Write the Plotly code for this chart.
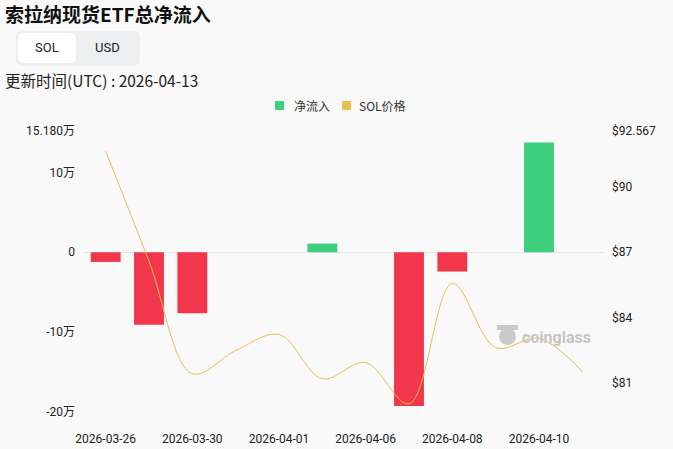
import plotly.graph_objects as go

# ---------------- data ----------------
dates = ["2026-03-26", "2026-03-27", "2026-03-30", "2026-03-31", "2026-04-01", "2026-04-02",
         "2026-04-06", "2026-04-07", "2026-04-08", "2026-04-09", "2026-04-10", "2026-04-13"]
net_flow = [-12100, -90900, -76300, None, None, 10900,
            None, -192500, -24100, None, 137500, None]
sol_price = [91.64, 86.59, 81.42, 82.48, 83.22, 81.19,
             81.93, 80.04, 85.57, 82.62, 83.04, 81.52]
x_tick_labels = ["2026-03-26", "2026-03-30", "2026-04-01", "2026-04-06", "2026-04-08", "2026-04-10"]
left_tickvals = [-200000, -100000, 0, 100000, 151800]
left_ticktext = ["-20万", "-10万", "0", "10万", "15.180万"]
right_tickvals = [81, 84, 87, 90, 92.567]
right_ticktext = ["$81", "$84", "$87", "$90", "$92.567"]
series_names = ["净流入", "SOL价格"]

# ---------------- style ----------------
W, H = 673, 449
L, R, T, B = 84, 604, 131, 412
BG = "#F9F9F9"
GREEN = "#3ECF7F"
RED = "#F2364C"
GOLD = "#E9BE4E"
FONT = "Roboto, Noto Sans CJK SC, sans-serif"
CJK = "Noto Sans CJK SC"


def px(xp):
    return (xp - L) / (R - L)


def py(yp):
    return (B - yp) / (B - T)


def rrect(x0, y0, x1, y1, r):
    def P(x, y):
        return f"{px(x):.5f},{py(y):.5f}"
    return (f"M {P(x0 + r, y0)} L {P(x1 - r, y0)} Q {P(x1, y0)} {P(x1, y0 + r)} "
            f"L {P(x1, y1 - r)} Q {P(x1, y1)} {P(x1 - r, y1)} L {P(x0 + r, y1)} "
            f"Q {P(x0, y1)} {P(x0, y1 - r)} L {P(x0, y0 + r)} Q {P(x0, y0)} {P(x0 + r, y0)} Z")


bar_colors = [GREEN if (v is not None and v >= 0) else RED for v in net_flow]

fig = go.Figure()
fig.add_trace(go.Bar(x=dates, y=net_flow, name=series_names[0],
                     marker=dict(color=bar_colors, line=dict(width=0)),
                     width=0.69, showlegend=False, yaxis="y"))
fig.add_trace(go.Scatter(x=dates, y=sol_price, mode="lines", name=series_names[1],
                         line=dict(color=GOLD, width=1, shape="spline", smoothing=1.0),
                         showlegend=False, yaxis="y2"))

shapes = [
    dict(type="path", xref="paper", yref="paper", path=rrect(16, 31, 140, 66, 7),
         fillcolor="#EEEFF1", line=dict(width=0), layer="below"),
    dict(type="path", xref="paper", yref="paper", path=rrect(18, 33, 76, 63, 6),
         fillcolor="#FFFFFF", line=dict(width=0), layer="below"),
    # legend swatches
    dict(type="rect", xref="paper", yref="paper", x0=px(275), x1=px(284), y0=py(110), y1=py(101),
         fillcolor=GREEN, line=dict(width=0)),
    dict(type="rect", xref="paper", yref="paper", x0=px(342), x1=px(351), y0=py(110), y1=py(101),
         fillcolor=GOLD, line=dict(width=0)),
    # watermark logo blob
    dict(type="circle", xref="paper", yref="paper", x0=px(499), x1=px(516), y0=py(345), y1=py(328),
         fillcolor="#C9C9C9", line=dict(width=0), layer="below"),
    dict(type="rect", xref="paper", yref="paper", x0=px(497), x1=px(518), y0=py(330), y1=py(325),
         fillcolor="#C9C9C9", line=dict(width=0), layer="below"),
]

annotations = [
    dict(text="<b>索拉纳现货ETF总净流入</b>", x=px(3), y=py(14), xref="paper", yref="paper",
         xanchor="left", yanchor="middle", showarrow=False,
         font=dict(size=19, color="#111111", family=CJK)),
    dict(text="SOL", x=px(47), y=py(48), xref="paper", yref="paper", xanchor="center",
         yanchor="middle", showarrow=False, font=dict(size=13, color="#222222", family=FONT)),
    dict(text="USD", x=px(107), y=py(48), xref="paper", yref="paper", xanchor="center",
         yanchor="middle", showarrow=False, font=dict(size=13, color="#222222", family=FONT)),
    dict(text="更新时间(UTC) : 2026-04-13", x=px(3), y=py(80), xref="paper", yref="paper",
         xanchor="left", yanchor="middle", showarrow=False,
         font=dict(size=15.5, color="#222222", family=CJK)),
    dict(text=series_names[0], x=px(292), y=py(105), xref="paper", yref="paper",
         xanchor="left", yanchor="middle", showarrow=False,
         font=dict(size=12, color="#333333", family=CJK)),
    dict(text=series_names[1], x=px(357), y=py(105), xref="paper", yref="paper",
         xanchor="left", yanchor="middle", showarrow=False,
         font=dict(size=12, color="#333333", family=CJK)),
    dict(text="<b>coinglass</b>", x=px(520), y=py(337), xref="paper", yref="paper",
         xanchor="left", yanchor="middle", showarrow=False,
         font=dict(size=16, color="#C6C6C6", family=FONT)),
]

fig.update_layout(
    width=W, height=H,
    margin=dict(l=L, r=W - R, t=T, b=H - B, pad=0, autoexpand=False),
    paper_bgcolor=BG, plot_bgcolor=BG,
    font=dict(family=FONT, size=11, color="#222222"),
    bargap=0.31,
    showlegend=False,
    xaxis=dict(type="category", categoryorder="array", categoryarray=dates,
               tickmode="array", tickvals=x_tick_labels, ticktext=x_tick_labels,
               showgrid=False, showline=False, zeroline=False, ticks="", automargin=False,
               tickfont=dict(size=12, color="#222222"), ticklabelstandoff=18,
               range=[-0.5, len(dates) - 0.5]),
    yaxis=dict(range=[-200000, 151800], tickmode="array", tickvals=left_tickvals,
               ticktext=left_ticktext, showgrid=False, zeroline=True, zerolinecolor="#E6E6E6",
               zerolinewidth=1, showline=False, ticks="", ticklabelstandoff=8, automargin=False,
               tickfont=dict(size=12, color="#222222")),
    yaxis2=dict(range=[79.66, 92.567], overlaying="y", side="right", tickmode="array",
                tickvals=right_tickvals, ticktext=right_ticktext, showgrid=False,
                zeroline=False, showline=False, ticks="", ticklabelstandoff=7, automargin=False,
                tickfont=dict(size=12, color="#222222")),
    shapes=shapes,
    annotations=annotations,
)

fig.write_html("out.html", config={"displayModeBar": False, "staticPlot": True},
               post_script="document.body.style.margin='0';document.body.style.padding='0';"
                           "document.body.style.background='#F9F9F9';"
                           "document.body.style.overflow='hidden';")
